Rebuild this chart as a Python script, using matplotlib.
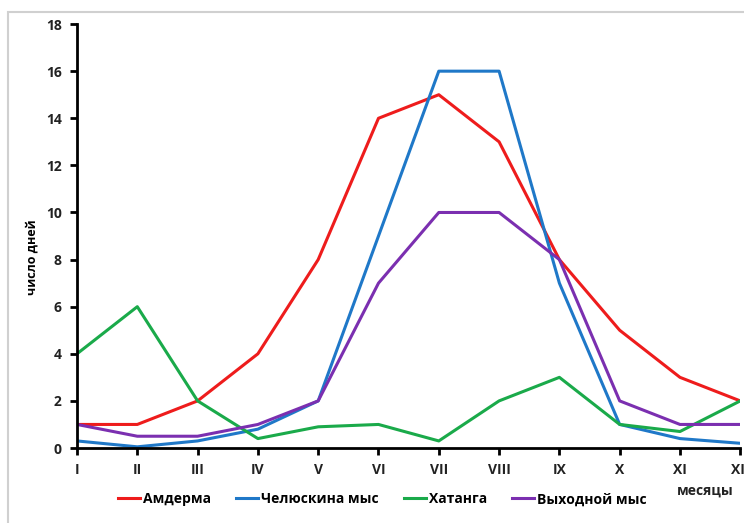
import numpy as np
import matplotlib.pyplot as plt
from matplotlib.patches import Rectangle

months = ['I', 'II', 'III', 'IV', 'V', 'VI', 'VII', 'VIII', 'IX', 'X', 'XI', 'XII']
amderma = [1, 1, 2, 4, 8, 14, 15, 13, 8, 5, 3, 2]
chelyuskin = [0.3, 0.05, 0.3, 0.8, 2, 9, 16, 16, 7, 1, 0.4, 0.2]
khatanga = [4, 6, 2, 0.4, 0.9, 1, 0.3, 2, 3, 1, 0.7, 2]
vykhodnoy = [1, 0.5, 0.5, 1, 2, 7, 10, 10, 8, 2, 1, 1]

series = [
    ('Амдерма', amderma, '#ee1c1c'),
    ('Челюскина мыс', chelyuskin, '#1f78c8'),
    ('Хатанга', khatanga, '#1aaa4a'),
    ('Выходной мыс', vykhodnoy, '#7b2fb0'),
]

plt.rcParams['font.family'] = ['Open Sans', 'DejaVu Sans']

fig = plt.figure(figsize=(7.44, 5.23), dpi=100)
fig.patches.append(Rectangle((0.011, -0.01), 1.0, 0.988, transform=fig.transFigure,
                             fill=False, edgecolor='#d0d0d0', linewidth=1.5))
ax = fig.add_axes([0.1035, 0.1434, 0.8915, 0.8106])

x = np.arange(len(months))
for name, vals, col in series:
    ax.plot(x, vals, color=col, linewidth=2.2, label=name)

ax.set_xlim(0, 11)
ax.set_ylim(0, 18)
ax.set_yticks(range(0, 19, 2))
ax.set_xticks(x)
ax.set_xticklabels(months)
for s in ['top', 'right']:
    ax.spines[s].set_visible(False)
for s in ['left', 'bottom']:
    ax.spines[s].set_linewidth(2)
ax.tick_params(axis='both', width=2, length=5, labelsize=10, pad=6)
for lab in ax.get_xticklabels() + ax.get_yticklabels():
    lab.set_fontweight('bold')
    lab.set_color('#222222')
ax.set_ylabel('число дней', fontsize=9, fontweight='bold')
ax.yaxis.set_label_coords(-0.058, 0.45)

ax.legend(loc='upper center', bbox_to_anchor=(0.46, -0.075), ncol=4, frameon=False,
          handlelength=1.6, handletextpad=0.2, columnspacing=1.8,
          prop={'weight': 'bold', 'size': 10})
fig.text(0.948, 0.055, 'месяцы', fontsize=10, fontweight='bold', ha='center', color='#222222')

fig.savefig('out.png', dpi=100)
